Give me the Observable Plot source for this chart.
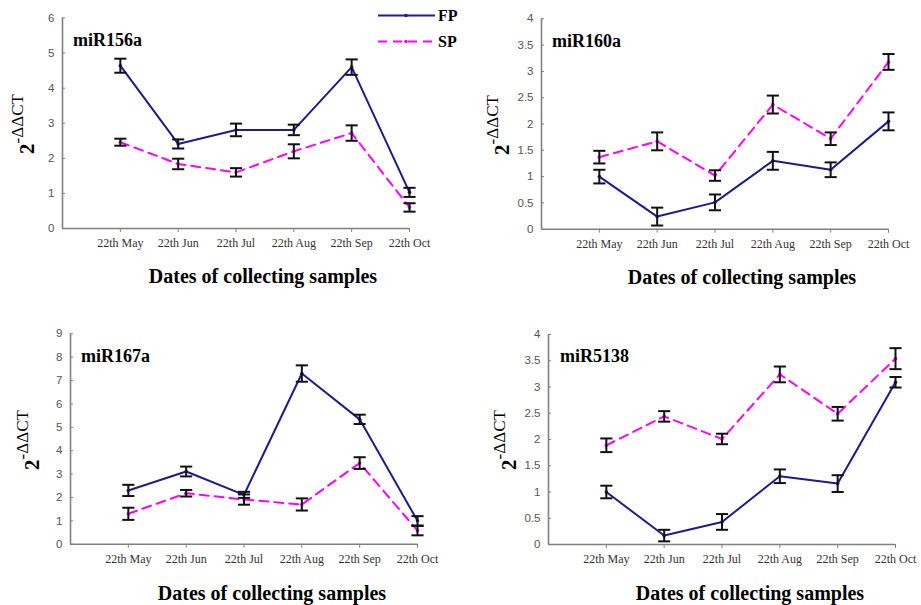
<!DOCTYPE html>
<html><head><meta charset="utf-8">
<script src="https://cdn.jsdelivr.net/npm/d3@7"></script>
<script src="https://cdn.jsdelivr.net/npm/@observablehq/plot@0.6"></script>
<style>
body{margin:0;background:#fff;}
#wrap{position:relative;width:921px;height:605px;overflow:hidden;background:#fff;}
.panel{position:absolute;}
.ttl{position:absolute;font-family:"Liberation Serif",serif;font-weight:bold;white-space:nowrap;color:#000;}
.xt{font-size:20px;transform:translate(-50%,-50%);}
.pl{font-size:18px;transform:translate(0,-50%);}
.yt{font-size:21px;transform:translate(-50%,-50%) rotate(-90deg);}
.yt sup{font-size:17px;position:relative;top:-3px;font-weight:normal;}
</style></head>
<body><div id="wrap"></div>
<script>
const categories = ["22th May","22th Jun","22th Jul","22th Aug","22th Sep","22th Oct"];
const seriesNames = ["FP","SP"];
const genes = ["miR156a","miR160a","miR167a","miR5138"];

const miR156a_FP = [4.64, 2.41, 2.81, 2.81, 4.60, 1.03];
const miR156a_FP_err = [0.20, 0.13, 0.18, 0.15, 0.22, 0.13];
const miR156a_SP = [2.46, 1.84, 1.60, 2.20, 2.72, 0.60];
const miR156a_SP_err = [0.10, 0.15, 0.12, 0.20, 0.22, 0.12];

const miR160a_FP = [1.00, 0.24, 0.51, 1.30, 1.13, 2.05];
const miR160a_FP_err = [0.13, 0.17, 0.15, 0.17, 0.14, 0.17];
const miR160a_SP = [1.37, 1.67, 1.02, 2.37, 1.72, 3.18];
const miR160a_SP_err = [0.12, 0.17, 0.10, 0.17, 0.12, 0.15];

const miR167a_FP = [2.30, 3.11, 2.11, 7.30, 5.34, 1.00];
const miR167a_FP_err = [0.24, 0.21, 0.13, 0.35, 0.20, 0.20];
const miR167a_SP = [1.30, 2.18, 1.91, 1.70, 3.47, 0.58];
const miR167a_SP_err = [0.26, 0.14, 0.22, 0.26, 0.25, 0.20];

const miR5138_FP = [1.00, 0.17, 0.43, 1.30, 1.16, 3.09];
const miR5138_FP_err = [0.12, 0.11, 0.15, 0.13, 0.16, 0.10];
const miR5138_SP = [1.89, 2.44, 2.01, 3.24, 2.49, 3.54];
const miR5138_SP_err = [0.13, 0.10, 0.10, 0.15, 0.13, 0.20];

const yTicks156 = [0,1,2,3,4,5,6];
const yTicks160 = [0,0.5,1,1.5,2,2.5,3,3.5,4];
const yTicks167 = [0,1,2,3,4,5,6,7,8,9];
const yTicks5138 = [0,0.5,1,1.5,2,2.5,3,3.5,4];

const FP_COLOR = "#1c1c8a", SP_COLOR = "#ff00ff";

const panels = [
  {name:genes[0], fp:miR156a_FP, fpe:miR156a_FP_err, sp:miR156a_SP, spe:miR156a_SP_err, ticks:yTicks156,
   left:0, top:0, w:460, h:300, ml:62, mr:51, mt:17.5, mb:72, label:[73,40], ytitle:[25,124], xtitle:[263,276]},
  {name:genes[1], fp:miR160a_FP, fpe:miR160a_FP_err, sp:miR160a_SP, spe:miR160a_SP_err, ticks:yTicks160,
   left:460, top:0, w:461, h:300, ml:81, mr:33, mt:18.3, mb:71.3, label:[552,41], ytitle:[500,125], xtitle:[742,277]},
  {name:genes[2], fp:miR167a_FP, fpe:miR167a_FP_err, sp:miR167a_SP, spe:miR167a_SP_err, ticks:yTicks167,
   left:0, top:300, w:460, h:305, ml:70, mr:43, mt:33.3, mb:61.3, label:[81,356], ytitle:[30,440], xtitle:[272,593]},
  {name:genes[3], fp:miR5138_FP, fpe:miR5138_FP_err, sp:miR5138_SP, spe:miR5138_SP_err, ticks:yTicks5138,
   left:460, top:300, w:461, h:305, ml:88, mr:26, mt:34, mb:61, label:[560,356], ytitle:[507,440], xtitle:[750,593]}
];

const wrap = document.getElementById("wrap");

function rows(vals, errs, s){ return vals.map((v,k)=>({i:k+1, v, e:errs[k], s})); }

for (const p of panels) {
  const fp = rows(p.fp, p.fpe, seriesNames[0]);
  const sp = rows(p.sp, p.spe, seriesNames[1]);
  const all = fp.concat(sp);
  const ymax = p.ticks[p.ticks.length-1];
  const cap = 0.105;
  const chart = Plot.plot({
    width:p.w, height:p.h,
    marginLeft:p.ml, marginRight:p.mr, marginTop:p.mt, marginBottom:p.mb,
    style:{background:"transparent", overflow:"visible"},
    x:{domain:[0,6], axis:null},
    y:{domain:[0,ymax], axis:null},
    marks:[
      Plot.axisX({ticks:[1,2,3,4,5,6], tickFormat:i=>categories[i-1], tickSize:4, tickPadding:6,
        fontFamily:"Liberation Serif", fontSize:12, stroke:"#808080", color:"#333", label:null}),
      Plot.axisY({ticks:p.ticks, tickSize:-3, tickPadding:11, fontFamily:"Liberation Sans", fontSize:11.5,
        stroke:"#808080", color:"#555", label:null, tickFormat:d=>String(d)}),
      Plot.ruleY([0], {stroke:"#808080", strokeWidth:1.6}),
      Plot.ruleX([0], {stroke:"#808080", strokeWidth:1.6}),
      Plot.line(sp, {x:"i", y:"v", stroke:SP_COLOR, strokeWidth:2, strokeDasharray:"9,6"}),
      Plot.line(fp, {x:"i", y:"v", stroke:FP_COLOR, strokeWidth:2}),
      Plot.dot(sp, {x:"i", y:"v", r:1.8, fill:SP_COLOR}),
      Plot.dot(fp, {x:"i", y:"v", r:1.8, fill:FP_COLOR}),
      Plot.ruleX(all, {x:"i", y1:d=>d.v-d.e, y2:d=>d.v+d.e, stroke:"#111", strokeWidth:2}),
      Plot.link(all, {x1:d=>d.i-cap, x2:d=>d.i+cap, y1:d=>d.v+d.e, y2:d=>d.v+d.e, stroke:"#111", strokeWidth:2}),
      Plot.link(all, {x1:d=>d.i-cap, x2:d=>d.i+cap, y1:d=>d.v-d.e, y2:d=>d.v-d.e, stroke:"#111", strokeWidth:2})
    ]
  });
  chart.classList.add("panel");
  chart.style.left = p.left + "px";
  chart.style.top = p.top + "px";
  wrap.appendChild(chart);

  const lab = document.createElement("div");
  lab.className = "ttl pl"; lab.textContent = p.name;
  lab.style.left = p.label[0]+"px"; lab.style.top = p.label[1]+"px";
  wrap.appendChild(lab);

  const yt = document.createElement("div");
  yt.className = "ttl yt"; yt.innerHTML = "2<sup>-\u0394\u0394CT</sup>";
  yt.style.left = p.ytitle[0]+"px"; yt.style.top = p.ytitle[1]+"px";
  wrap.appendChild(yt);

  const xt = document.createElement("div");
  xt.className = "ttl xt"; xt.textContent = "Dates of collecting samples";
  xt.style.left = p.xtitle[0]+"px"; xt.style.top = p.xtitle[1]+"px";
  wrap.appendChild(xt);
}

// legend
const leg = document.createElementNS("http://www.w3.org/2000/svg","svg");
leg.setAttribute("width","90"); leg.setAttribute("height","56");
leg.style.position="absolute"; leg.style.left="375px"; leg.style.top="0px";
leg.innerHTML =
 `<line x1="3" y1="15.5" x2="60" y2="15.5" stroke="${FP_COLOR}" stroke-width="2"/>
  <circle cx="31" cy="15.5" r="1.8" fill="${FP_COLOR}"/>
  <text x="63" y="21" font-family="Liberation Serif" font-weight="bold" font-size="16">${seriesNames[0]}</text>
  <line x1="3" y1="41.5" x2="60" y2="41.5" stroke="${SP_COLOR}" stroke-width="2" stroke-dasharray="9,6"/>
  <circle cx="31" cy="41.5" r="1.8" fill="${SP_COLOR}"/>
  <text x="63" y="47" font-family="Liberation Serif" font-weight="bold" font-size="16">${seriesNames[1]}</text>`;
wrap.appendChild(leg);
</script></body></html>
